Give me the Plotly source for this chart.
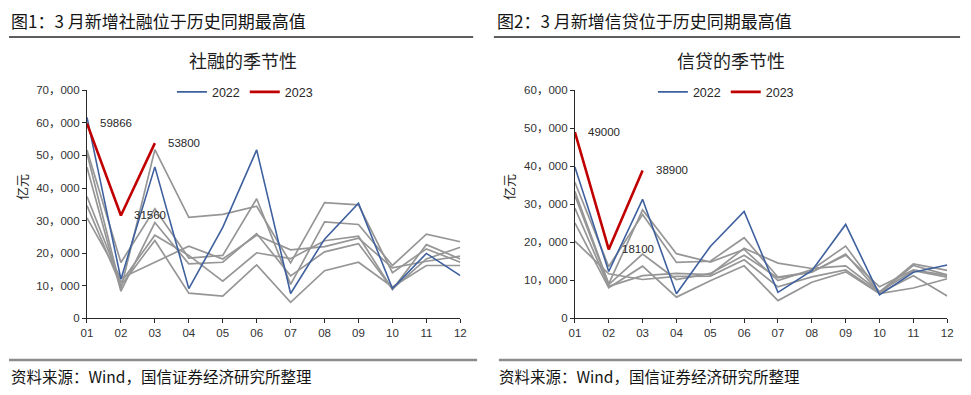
import plotly.graph_objects as go

W, H = 971, 395

months = ["01", "02", "03", "04", "05", "06", "07", "08", "09", "10", "11", "12"]
month_pos = list(range(1, 13))

# ---- Figure 1: social financing (亿元) ----
tsf_hist = {
    "2016": [34600, 10000, 23900, 7700, 6800, 16400, 4900, 14600, 17200, 9600, 16200, 16200],
    "2017": [37400, 11000, 25500, 19300, 11400, 20100, 18300, 23800, 25200, 8800, 22600, 18200],
    "2018": [30800, 12300, 17200, 22100, 18200, 25500, 21000, 22000, 24600, 15500, 17500, 19100],
    "2019": [46400, 8300, 29400, 16700, 17200, 26000, 13000, 20400, 22900, 9000, 18200, 21800],
    "2020": [50700, 9000, 51800, 31000, 31900, 34400, 17000, 35500, 34800, 14000, 21300, 17200],
    "2021": [51700, 17100, 33600, 18500, 19300, 36700, 10400, 29600, 28800, 16200, 25800, 23500],
}
tsf_2022 = [61700, 12000, 46500, 9100, 27900, 51700, 7600, 24300, 35300, 9100, 19900, 13100]
tsf_2023 = [59866, 31560, 53800]
tsf_ticks = [0, 10000, 20000, 30000, 40000, 50000, 60000, 70000]
tsf_ticktext = ["0", "10，000", "20，000", "30，000", "40，000", "50，000", "60，000", "70，000"]

# ---- Figure 2: new RMB loans (亿元) ----
loan_hist = {
    "2016": [25100, 8000, 13700, 5556, 9855, 13800, 4636, 9487, 12200, 6513, 7946, 10400],
    "2017": [20300, 11700, 10200, 11000, 11100, 15400, 8255, 10900, 12700, 6632, 11200, 5844],
    "2018": [29000, 8393, 11200, 11800, 11500, 18400, 14500, 13100, 13800, 6970, 12500, 10800],
    "2019": [32300, 8858, 16900, 10200, 11800, 16600, 10600, 12100, 16900, 6613, 13900, 11400],
    "2020": [33400, 9057, 28500, 17000, 14800, 18100, 9927, 12800, 19000, 6898, 14300, 12600],
    "2021": [35800, 13600, 27300, 14700, 15000, 21200, 10800, 12200, 16600, 8262, 12700, 11300],
}
loan_2022 = [39800, 12300, 31300, 6454, 18900, 28100, 6790, 12500, 24700, 6152, 12100, 14000]
loan_2023 = [49000, 18100, 38900]
loan_ticks = [0, 10000, 20000, 30000, 40000, 50000, 60000]
loan_ticktext = ["0", "10，000", "20，000", "30，000", "40，000", "50，000", "60，000"]

GRAY = "rgb(150,150,150)"
BLUE = "rgb(62,96,158)"
RED = "rgb(192,0,0)"
NUM_FONT = "Liberation Sans, Noto Sans CJK SC, sans-serif"
CJK_FONT = "Noto Sans CJK SC, sans-serif"


def px(x):
    return x / W


def py(y):
    return 1 - y / H


fig = go.Figure()

panels = [
    ("x", "y", "legend", tsf_hist, tsf_2022, tsf_2023),
    ("x2", "y2", "legend2", loan_hist, loan_2022, loan_2023),
]
for xa, ya, lg, hist, v22, v23 in panels:
    for yr, vals in hist.items():
        fig.add_trace(go.Scatter(x=month_pos, y=vals, mode="lines", name=yr,
                                 line=dict(color=GRAY, width=1.7), showlegend=False,
                                 xaxis=xa, yaxis=ya))
    fig.add_trace(go.Scatter(x=month_pos, y=v22, mode="lines", name="2022",
                             line=dict(color=BLUE, width=1.6), legend=lg,
                             xaxis=xa, yaxis=ya))
    fig.add_trace(go.Scatter(x=month_pos[:len(v23)], y=v23, mode="lines", name="2023",
                             line=dict(color=RED, width=2.6), legend=lg,
                             xaxis=xa, yaxis=ya))

axis_common = dict(showgrid=False, zeroline=False, showline=True, linecolor="rgb(40,40,40)",
                   linewidth=1, ticks="outside", ticklen=4, tickcolor="rgb(40,40,40)",
                   tickfont=dict(family=NUM_FONT, size=11.5, color="rgb(50,50,50)"))

top_y, bot_y = 87, 322
fig.update_layout(
    width=W, height=H,
    margin=dict(l=0, r=0, t=0, b=0),
    paper_bgcolor="white", plot_bgcolor="white",
    xaxis=dict(domain=[px(82), px(460)], range=[1, 12], tickvals=month_pos, ticktext=months,
               anchor="y", **axis_common),
    yaxis=dict(domain=[py(bot_y), py(top_y)], range=[0, 70000], tickvals=tsf_ticks,
               ticktext=tsf_ticktext, anchor="x", **axis_common),
    xaxis2=dict(domain=[px(576), px(953)], range=[1, 12], tickvals=month_pos, ticktext=months,
                anchor="y2", **axis_common),
    yaxis2=dict(domain=[py(bot_y), py(top_y)], range=[0, 60000], tickvals=loan_ticks,
                ticktext=loan_ticktext, anchor="x2", **axis_common),
    legend=dict(orientation="h", x=px(168), y=py(89), xanchor="left", yanchor="middle",
                font=dict(family=NUM_FONT, size=12.5, color="rgb(40,40,40)"),
                bgcolor="rgba(0,0,0,0)", itemwidth=30, tracegroupgap=0),
    legend2=dict(orientation="h", x=px(655), y=py(89), xanchor="left", yanchor="middle",
                 font=dict(family=NUM_FONT, size=12.5, color="rgb(40,40,40)"),
                 bgcolor="rgba(0,0,0,0)", itemwidth=30, tracegroupgap=0),
    showlegend=True,
)

shapes = []
# header rules
shapes.append(dict(type="line", xref="paper", yref="paper", x0=px(3), x1=px(473),
                   y0=py(32), y1=py(32), line=dict(color="rgb(40,40,40)", width=1.5)))
shapes.append(dict(type="line", xref="paper", yref="paper", x0=px(494), x1=px(966),
                   y0=py(32), y1=py(32), line=dict(color="rgb(40,40,40)", width=1.5)))
# footer rules
shapes.append(dict(type="line", xref="paper", yref="paper", x0=px(3), x1=px(477),
                   y0=py(365), y1=py(365), line=dict(color="rgb(140,140,140)", width=2.5)))
shapes.append(dict(type="line", xref="paper", yref="paper", x0=px(499), x1=px(968),
                   y0=py(365), y1=py(365), line=dict(color="rgb(140,140,140)", width=2.5)))
fig.update_layout(shapes=shapes)

ann = []
hdr_font = dict(family=CJK_FONT, size=17, color="rgb(20,20,20)")
ann.append(dict(text="图1：3 月新增社融位于历史同期最高值", x=px(3), y=py(15), xref="paper",
                yref="paper", xanchor="left", yanchor="middle", showarrow=False, font=hdr_font))
ann.append(dict(text="图2：3 月新增信贷位于历史同期最高值", x=px(495), y=py(15), xref="paper",
                yref="paper", xanchor="left", yanchor="middle", showarrow=False, font=hdr_font))
ttl_font = dict(family=CJK_FONT, size=18, color="rgb(30,30,30)")
ann.append(dict(text="社融的季节性", x=px(240), y=py(56), xref="paper", yref="paper",
                xanchor="center", yanchor="middle", showarrow=False, font=ttl_font))
ann.append(dict(text="信贷的季节性", x=px(734), y=py(56), xref="paper", yref="paper",
                xanchor="center", yanchor="middle", showarrow=False, font=ttl_font))
ftr_font = dict(family=CJK_FONT, size=15.5, color="rgb(20,20,20)")
ann.append(dict(text="资料来源：Wind，国信证券经济研究所整理", x=px(3), y=py(382), xref="paper",
                yref="paper", xanchor="left", yanchor="middle", showarrow=False, font=ftr_font))
ann.append(dict(text="资料来源：Wind，国信证券经济研究所整理", x=px(497), y=py(382), xref="paper",
                yref="paper", xanchor="left", yanchor="middle", showarrow=False, font=ftr_font))
unit_font = dict(family=CJK_FONT, size=13, color="rgb(30,30,30)")
ann.append(dict(text="亿元", x=px(16), y=py(187), xref="paper", yref="paper", textangle=-90,
                xanchor="center", yanchor="middle", showarrow=False, font=unit_font))
ann.append(dict(text="亿元", x=px(509), y=py(187), xref="paper", yref="paper", textangle=-90,
                xanchor="center", yanchor="middle", showarrow=False, font=unit_font))

lbl_font = dict(family=NUM_FONT, size=11.5, color="rgb(40,40,40)")
for xa, ya, vals in (("x", "y", tsf_2023), ("x2", "y2", loan_2023)):
    for i, v in enumerate(vals):
        ann.append(dict(text=str(v), x=month_pos[i], y=v, xref=xa, yref=ya, xanchor="left",
                        yanchor="middle", xshift=11, showarrow=False, font=lbl_font))
fig.update_layout(annotations=ann)

fig.write_html("out.html", config={"displayModeBar": False},
               post_script="document.body.style.margin='0';document.body.style.overflow='hidden';")
